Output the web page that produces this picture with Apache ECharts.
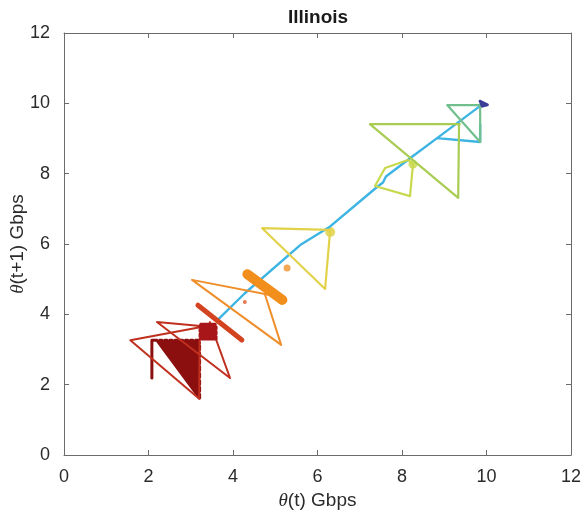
<!DOCTYPE html>
<html>
<head>
<meta charset="utf-8">
<title>Illinois</title>
<script src="https://cdn.jsdelivr.net/npm/echarts@6/dist/echarts.min.js"></script>
<style>
  html, body { margin: 0; padding: 0; background: #fff; }
  #chart { width: 585px; height: 519px; }
</style>
</head>
<body>
<div id="chart"></div>
<script>
// Phase portrait of throughput: theta(t) against theta(t+1), in Gbps.
const chartTitle = 'Illinois';
const axisTicks = [0, 2, 4, 6, 8, 10, 12];

// Each colour is one stretch of the trace; points are [theta(t), theta(t+1)].
const darkRedTrace = [
  [2.08, 2.19], [2.08, 3.26], [2.20, 3.26], [3.21, 1.62], [3.21, 1.72], [2.26, 3.26],
  [2.32, 3.26], [3.21, 1.82], [3.21, 1.92], [2.38, 3.26], [2.44, 3.26], [3.21, 2.01],
  [3.21, 2.11], [2.50, 3.26], [2.56, 3.26], [3.21, 2.21], [3.21, 2.31], [2.62, 3.26],
  [2.68, 3.26], [3.21, 2.41], [3.21, 2.51], [2.75, 3.26], [2.81, 3.26], [3.21, 2.60],
  [3.21, 2.70], [2.87, 3.26], [2.93, 3.26], [3.21, 2.80], [3.21, 2.90], [2.99, 3.26],
  [3.05, 3.26], [3.21, 3.00], [3.21, 3.10], [3.11, 3.26], [3.17, 3.26], [3.21, 3.19]
];
const redTrace = [
  [3.25, 3.64], [1.57, 3.26], [3.20, 1.60], [3.21, 3.26], null,
  [3.45, 3.78], [3.93, 2.19], [2.20, 3.78], [3.30, 3.66]
];
const redCluster = [
  [3.22, 3.30], [3.60, 3.30], [3.60, 3.37], [3.22, 3.37], [3.22, 3.44], [3.60, 3.44],
  [3.60, 3.51], [3.22, 3.51], [3.22, 3.58], [3.60, 3.58], [3.60, 3.65], [3.22, 3.65],
  [3.24, 3.72], [3.58, 3.72]
];
const orangeRedTrace = [[3.17, 4.26], [4.21, 3.27]];
const orangeTrace = [[4.76, 4.55], [5.14, 3.13], [3.03, 4.98], [5.12, 4.49]];
const orangeCluster = [[4.34, 5.14], [5.17, 4.41]];
const yellowTrace = [[6.30, 6.40], [6.18, 4.72], [4.69, 6.45], [6.30, 6.40]];
const limeTrace = [[8.26, 8.27], [8.19, 7.36], [7.36, 7.65], [7.60, 8.16], [8.14, 8.39], [8.26, 8.27]];
const greenTrace = [[9.35, 9.41], [9.33, 7.31], [7.24, 9.41], [9.37, 9.41]];
const tealTrace = [[9.85, 9.95], [9.85, 8.90], [9.07, 9.95], [9.85, 9.95]];
const blueTrace = [
  [3.62, 3.82], [4.28, 4.60], [5.59, 5.97], [6.30, 6.50], [7.41, 7.62], [7.55, 7.75],
  [7.62, 7.92], [8.19, 8.44], [8.83, 9.01], [9.90, 9.97], null,
  [8.83, 9.01], [9.85, 8.90], [9.85, 9.40]
];
const navyTrace = [[9.85, 10.06], [10.02, 9.96], [9.90, 9.92], [9.85, 10.06]];

// Dense resting points drawn as dots.
const orangeDots = [[5.28, 5.32]];
const orangeRedDots = [[4.28, 4.35]];
const yellowDots = [[6.30, 6.34]];
const limeDots = [[8.26, 8.27]];

const FONT = '"Liberation Sans", Arial, Helvetica, sans-serif';
const AXIS_COLOR = '#6b6b6b';
const LABEL_COLOR = '#2b2b2b';

function trace(data, color, width) {
  return {
    type: 'line', data: data, showSymbol: false, connectNulls: false,
    silent: true, animation: false,
    lineStyle: { color: color, width: width, cap: 'round', join: 'round' }
  };
}
function dots(data, color, size) {
  return {
    type: 'scatter', data: data, symbolSize: size, silent: true, animation: false,
    itemStyle: { color: color }
  };
}

function axisBase(pos, showLabels) {
  return {
    type: 'value', min: 0, max: 12, interval: 2, position: pos,
    nameMoveOverlap: false,
    axisLine: { show: true, onZero: false, lineStyle: { color: AXIS_COLOR, width: 1 } },
    axisTick: { show: true, inside: true, length: 5, lineStyle: { color: AXIS_COLOR } },
    axisLabel: {
      show: showLabels, fontFamily: FONT, fontSize: 18, color: LABEL_COLOR,
      formatter: v => String(axisTicks.includes(v) ? v : '')
    },
    splitLine: { show: false }
  };
}

const nameStyle = {
  fontFamily: FONT, fontSize: 19, color: LABEL_COLOR,
  rich: { i: { fontFamily: '"Liberation Serif", serif', fontStyle: 'italic', fontSize: 19, color: LABEL_COLOR } }
};
const xBottom = Object.assign(axisBase('bottom', true), {
  name: '{i|θ}(t) Gbps', nameLocation: 'middle', nameGap: 36, nameTextStyle: nameStyle
});
xBottom.axisLabel.margin = 13;
const yLeft = Object.assign(axisBase('left', true), {
  name: '{i|θ}(t+1) Gbps', nameLocation: 'middle', nameGap: 37, nameTextStyle: nameStyle
});
yLeft.axisLabel.margin = 14;

const chart = echarts.init(document.getElementById('chart'), null, { renderer: 'canvas' });
chart.setOption({
  backgroundColor: '#ffffff',
  animation: false,
  grid: { left: 64, right: 14, top: 33, bottom: 64, containLabel: false, outerBoundsMode: 'none' },
  graphic: [{
    type: 'text', x: 318, y: 18,
    style: {
      text: chartTitle, fontFamily: FONT, fontWeight: 'bold', fontSize: 19,
      fill: '#1a1a1a', textAlign: 'center', textVerticalAlign: 'middle'
    }
  }],
  xAxis: [xBottom, axisBase('top', false)],
  yAxis: [yLeft, axisBase('right', false)],
  series: [
    trace(blueTrace, '#3db4e3', 2.4),
    trace(darkRedTrace, '#8c0f10', 3),
    trace(redTrace, '#c0301f', 2),
    trace(redCluster, '#a8161a', 3),
    trace(orangeRedTrace, '#d3431f', 5),
    trace(orangeTrace, '#ef8f2b', 2),
    trace(orangeCluster, '#f28e1c', 10),
    trace(yellowTrace, '#e2d24a', 2.2),
    trace(limeTrace, '#c8d94f', 2.2),
    trace(greenTrace, '#a9cc52', 2.2),
    trace(tealTrace, '#72bf8e', 2.2),
    trace(navyTrace, '#3b3e98', 3),
    dots(orangeDots, '#f0922a', 7),
    dots(orangeRedDots, '#df5a2a', 4),
    dots(yellowDots, '#e0cf3c', 10),
    dots(limeDots, '#c6d845', 9)
  ]
});
</script>
</body>
</html>
